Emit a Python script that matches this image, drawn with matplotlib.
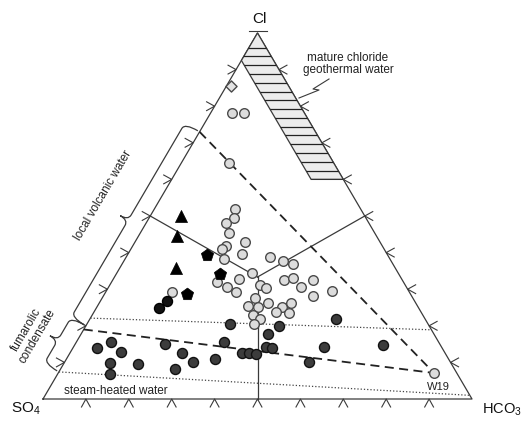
import numpy as np
import matplotlib.pyplot as plt
from matplotlib.path import Path
from matplotlib.patches import PathPatch, Polygon

plt.rcParams['font.family'] = ['Liberation Sans', 'DejaVu Sans']
plt.rcParams['mathtext.fontset'] = 'custom'
plt.rcParams['mathtext.rm'] = 'Liberation Sans'

# ---------------------------------------------
# Relative Cl / SO4 / HCO3 contents (%)
# ---------------------------------------------
open_cl = [78.1, 78.1, 64.5, 51.9, 49.5, 48.1, 45.4, 42.9, 41.8, 41.0, 39.6, 38.3,
           32.0, 30.6, 29.2, 32.8, 34.4, 31.1, 30.3, 27.6, 26.2, 25.4, 25.1, 23.0,
           21.9, 20.5, 38.8, 37.7, 36.9, 32.5, 33.1, 30.6, 32.5, 28.1, 29.5, 25.1,
           26.2, 23.8, 23.5, 29.2]
open_so4 = [16.9, 14.1, 24.4, 29.3, 30.7, 33.3, 33.9, 31.5, 36.4, 37.8, 33.8, 38.7,
            43.4, 41.8, 40.4, 37.9, 34.1, 33.9, 32.9, 36.8, 34.5, 39.5, 37.3, 39.5,
            38.5, 40.6, 27.7, 25.2, 23.3, 27.6, 25.2, 24.6, 20.8, 23.0, 17.9, 31.7,
            29.1, 33.8, 30.9, 55.3]
open_hco3 = [5.0, 7.8, 11.1, 18.8, 19.8, 18.6, 20.7, 25.6, 21.8, 21.2, 26.6, 23.0,
             24.6, 27.6, 30.4, 29.3, 31.5, 35.0, 36.8, 35.6, 39.3, 35.1, 37.6, 37.5,
             39.6, 38.9, 33.5, 37.1, 39.8, 39.9, 41.7, 44.8, 46.7, 48.9, 52.6, 43.2,
             44.7, 42.4, 45.6, 15.5]

steam_cl = [13.9, 15.6, 12.8, 9.8, 6.8, 9.6, 15.0, 12.6, 10.1, 8.2, 10.9, 15.6,
            20.5, 12.6, 12.6, 12.3, 14.2, 13.9, 17.8, 19.9, 21.9, 14.2, 10.1, 14.8]
steam_so4 = [80.5, 76.3, 75.4, 79.5, 81.0, 73.1, 64.1, 61.3, 60.0, 65.1, 54.5, 50.0,
             46.2, 47.3, 45.7, 44.2, 40.9, 39.7, 38.6, 35.0, 20.7, 27.4, 32.9, 13.3]
steam_hco3 = [5.6, 8.1, 11.8, 10.7, 12.2, 17.3, 20.9, 26.1, 29.9, 26.7, 34.6, 34.4,
              33.3, 40.1, 41.7, 43.5, 44.9, 46.4, 43.6, 45.1, 57.4, 58.4, 57.0, 71.9]

black_cl = [26.8, 24.9]
black_so4 = [57.7, 60.5]
black_hco3 = [15.5, 14.6]

tri_cl = [50.0, 44.5, 35.8]
tri_so4 = [42.8, 46.5, 51.1]
tri_hco3 = [7.2, 9.0, 13.1]

pent_cl = [39.3, 34.2, 28.7]
pent_so4 = [42.1, 41.6, 52.1]
pent_hco3 = [18.6, 24.2, 19.2]

diam_cl = [85.5]
diam_so4 = [13.5]
diam_hco3 = [1.0]

w19 = (7.1, 5.3, 87.6)

# ---------------------------------------------
# Triangle geometry (page pixels)
# ---------------------------------------------
V_SO4 = np.array([43.0, 399.0])
V_HCO3 = np.array([472.0, 399.0])
V_CL = np.array([257.5, 33.0])
LINE = '#3a3a3a'


def tern(cl, so4, hco3):
    cl, so4, hco3 = (np.asarray(v, dtype=float) for v in (cl, so4, hco3))
    t = cl + so4 + hco3
    x = (so4 * V_SO4[0] + hco3 * V_HCO3[0] + cl * V_CL[0]) / t
    y = (so4 * V_SO4[1] + hco3 * V_HCO3[1] + cl * V_CL[1]) / t
    return x, y


fig = plt.figure(figsize=(5.21, 4.25), dpi=100)
ax = fig.add_axes([0, 0, 1, 1])
ax.set_xlim(0, 521)
ax.set_ylim(425, 0)
ax.axis('off')


def tline(p, q, **kw):
    x, y = tern(*zip(p, q))
    ax.plot(x, y, **kw)


# outline
tx, ty = tern([0, 0, 100, 0], [100, 0, 0, 100], [0, 100, 0, 0])
ax.plot(tx, ty, color=LINE, lw=0.9, zorder=2)


# caret ticks every 10 %
def caret(px, py, dx, dy, size=8.0, spread=0.55):
    nx, ny = -dy, dx
    xs = [px + size * (dx + spread * nx), px, px + size * (dx - spread * nx)]
    ys = [py + size * (dy + spread * ny), py, py + size * (dy - spread * ny)]
    ax.plot(xs, ys, color=LINE, lw=0.8, zorder=2)


for k in range(1, 10):
    v = 10 * k
    x, y = tern(v, 100 - v, 0)
    caret(x, y, -1, 0)
    x, y = tern(v, 0, 100 - v)
    caret(x, y, 1, 0)
    x, y = tern(0, 100 - v, v)
    caret(x, y, 0, 1)
ax.plot([V_CL[0] - 9, V_CL[0] + 9], [V_CL[1] - 2, V_CL[1] - 2], color=LINE, lw=0.8)

# field boundaries from the centre
centre = (100 / 3, 100 / 3, 100 / 3)
for mid in [(50, 50, 0), (50, 0, 50), (0, 50, 50)]:
    tline(centre, mid, color=LINE, lw=0.9, zorder=2)

# mixing trends towards W19
tline((73, 27, 0), w19, color='#222222', lw=1.3, dashes=(5, 3), zorder=2)
tline((19, 81, 0), w19, color='#222222', lw=1.3, dashes=(5, 3), zorder=2)

# dotted limits
tline((22.1, 77.9, 0), (18.9, 0, 81.1), color='#444444', lw=0.9, ls=(0, (1, 1.6)), zorder=2)
tline((7.4, 92.6, 0), (1.0, 0, 99.0), color='#444444', lw=0.9, ls=(0, (1, 1.6)), zorder=2)

# mature chloride band, hatched
band = [(100, 0, 0), (92.5, 7.5, 0), (60, 7.5, 32.5), (60, 0, 40)]
bx, by = tern(*zip(*band))
poly = Polygon(np.column_stack([bx, by]), closed=True, facecolor='#ececec',
               edgecolor=LINE, lw=0.9, zorder=2)
ax.add_patch(poly)
for c in np.linspace(60, 96, 16):
    _, yy = tern(c, 100 - c, 0)
    ln, = ax.plot([200, 420], [yy, yy], color='#222222', lw=0.9, zorder=3)
    ln.set_clip_path(poly)

ax.text(348, 64, 'mature chloride\ngeothermal water', fontsize=8.5, ha='center',
        va='center', linespacing=1.0, color='#222222')
ax.plot([329, 313, 319, 299], [79, 89, 90, 98], color=LINE, lw=0.8)

# braces along the SO4-Cl side
u = (V_CL - V_SO4) / np.hypot(*(V_CL - V_SO4))
n = np.array([u[1], -u[0]])


def brace(cl0, cl1, d=17.0, r=6.0, tip=9.0):
    p0 = np.array(tern(cl0, 100 - cl0, 0))
    p1 = np.array(tern(cl1, 100 - cl1, 0))
    L = np.hypot(*(p1 - p0))
    h = L / 2
    loc = [(0, 2), (0, d), (r, d), (h - r, d), (h, d), (h, d + tip),
           (h, d), (h + r, d), (L - r, d), (L, d), (L, 2)]
    codes = [Path.MOVETO, Path.CURVE3, Path.CURVE3, Path.LINETO, Path.CURVE3,
             Path.CURVE3, Path.CURVE3, Path.CURVE3, Path.LINETO, Path.CURVE3, Path.CURVE3]
    verts = [p0 + s * u + v * n for s, v in loc]
    ax.add_patch(PathPatch(Path(verts, codes), fill=False, edgecolor=LINE, lw=0.9))


brace(20, 73)
brace(7.4, 20)

ang = np.degrees(np.arctan2(V_CL[1] - V_SO4[1], V_CL[0] - V_SO4[0]))
ax.text(103, 195, 'local volcanic water', fontsize=8.5, rotation=-ang,
        rotation_mode='anchor', ha='center', va='center', color='#222222')
ax.text(32, 333, 'fumarolic\ncondensate', fontsize=8.5, rotation=-ang,
        rotation_mode='anchor', ha='center', va='center', linespacing=1.0,
        color='#222222')
ax.text(116, 391, 'steam-heated water', fontsize=8.5, ha='center', va='center',
        color='#222222')

# samples
x, y = tern(open_cl, open_so4, open_hco3)
ax.scatter(x, y, s=48, marker='o', facecolor='#dcdcdc', edgecolor='#4a4a4a', lw=1.0, zorder=5)
x, y = tern(*w19)
ax.scatter([x], [y], s=48, marker='o', facecolor='#dcdcdc', edgecolor='#4a4a4a', lw=1.0, zorder=5)
ax.annotate('W19', (x, y), xytext=(3, -10), textcoords='offset points', fontsize=8,
            ha='center', va='center', color='#222222')
x, y = tern(steam_cl, steam_so4, steam_hco3)
ax.scatter(x, y, s=52, marker='o', facecolor='#3c3c3c', edgecolor='#111111', lw=1.0, zorder=5)
x, y = tern(black_cl, black_so4, black_hco3)
ax.scatter(x, y, s=52, marker='o', facecolor='#111111', edgecolor='#000000', lw=1.0, zorder=5)
x, y = tern(tri_cl, tri_so4, tri_hco3)
ax.scatter(x, y, s=75, marker='^', facecolor='#000000', edgecolor='#000000', lw=0.5, zorder=5)
x, y = tern(pent_cl, pent_so4, pent_hco3)
ax.scatter(x, y, s=85, marker='p', facecolor='#000000', edgecolor='#000000', lw=0.5, zorder=5)
x, y = tern(diam_cl, diam_so4, diam_hco3)
ax.scatter(x, y, s=32, marker='D', facecolor='#e4e4e4', edgecolor='#4a4a4a', lw=1.0, zorder=5)

# corner labels
ax.text(V_CL[0] + 2, 19, 'Cl', fontsize=11, ha='center', va='center', color='#111111')
ax.text(26, 409, 'SO$_4$', fontsize=11, ha='center', va='center', color='#111111')
ax.text(482, 410, 'HCO$_3$', fontsize=10.5, ha='left', va='center', color='#111111')

fig.savefig('out.png', dpi=100)
